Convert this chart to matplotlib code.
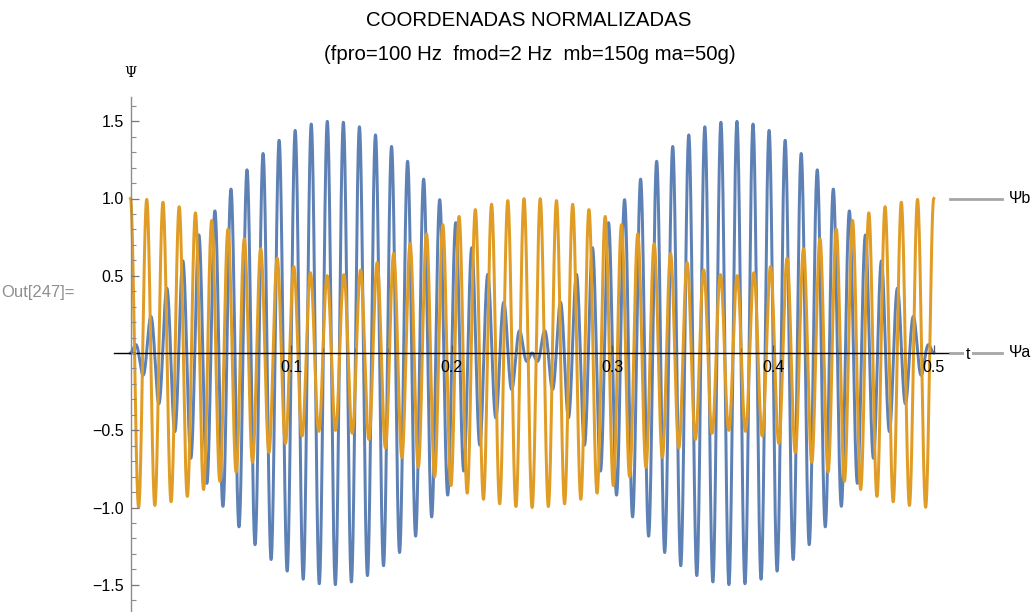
import numpy as np
import matplotlib
matplotlib.use("Agg")
import matplotlib.pyplot as plt
from matplotlib.lines import Line2D
from matplotlib.ticker import FixedLocator, MultipleLocator, FixedFormatter

# Parameters of the coupled system (shown in the subtitle)
fpro = 100.0   # average frequency, Hz
fmod = 2.0     # modulation frequency, Hz
mb = 150.0     # mass b, g
ma = 50.0      # mass a, g
t_end = 0.5    # s

series_names = ["\u03a8a", "\u03a8b"]
series_colors = ["#5E81B5", "#E09C24"]

x_ticks = [0.1, 0.2, 0.3, 0.4, 0.5]
x_tick_labels = ["0.1", "0.2", "0.3", "0.4", "0.5"]
y_ticks = [-1.5, -1.0, -0.5, 0.5, 1.0, 1.5]
y_tick_labels = ["\u22121.5", "\u22121.0", "\u22120.5", "0.5", "1.0", "1.5"]

title_line1 = "COORDENADAS NORMALIZADAS"
title_line2 = f"(fpro={fpro:g} Hz  fmod={fmod:g} Hz  mb={mb:g}g ma={ma:g}g)"

# Normal-mode superposition, starting from psi_a = 0, psi_b = 1
t = np.linspace(0.0, t_end, 40001)
w_slow = 2 * np.pi * (fpro - fmod)   # in-phase mode
w_fast = 2 * np.pi * (fpro + fmod)   # anti-phase mode
c_slow = mb / (ma + mb)
c_fast = ma / (ma + mb)
psi_a = c_slow * np.cos(w_slow * t) - c_fast * (mb / ma) * np.cos(w_fast * t)
psi_b = c_slow * np.cos(w_slow * t) + c_fast * np.cos(w_fast * t)

plt.rcParams["font.family"] = ["Liberation Sans", "DejaVu Sans"]

W, H = 1033, 612
fig = plt.figure(figsize=(W / 100, H / 100), dpi=100)

# pixel geometry of the plotting frame
x0_px, x_scale = 130.5, 1606.5     # px at t=0, px per unit t
y0_px, y_scale = 353.0, 154.5      # px at psi=0, px per unit psi
left_px, right_px, top_px, bottom_px = 114, 950, 97, 612

ax = fig.add_axes([left_px / W, 1 - bottom_px / H,
                   (right_px - left_px) / W, (bottom_px - top_px) / H])
ax.set_xlim((left_px - x0_px) / x_scale, (right_px - x0_px) / x_scale)
ax.set_ylim((y0_px - bottom_px) / y_scale, (y0_px - top_px) / y_scale)
ax.patch.set_visible(False)

for y, c in zip([psi_a, psi_b], series_colors):
    ax.plot(t, y, color=c, lw=2.15, solid_joinstyle="round", zorder=2)

for s in ("top", "right"):
    ax.spines[s].set_visible(False)
ax.spines["left"].set_position(("data", 0))
ax.spines["bottom"].set_position(("data", 0))
ax.spines["left"].set_color("#8c8c8c")
ax.spines["bottom"].set_color("black")
ax.spines["left"].set_linewidth(1.0)
ax.spines["bottom"].set_linewidth(1.0)
ax.spines["left"].set_zorder(3)
ax.spines["bottom"].set_zorder(3)
ax.xaxis.set_zorder(4)
ax.yaxis.set_zorder(4)

ax.xaxis.set_major_locator(FixedLocator(x_ticks))
ax.xaxis.set_major_formatter(FixedFormatter(x_tick_labels))
ax.xaxis.set_minor_locator(MultipleLocator(0.02))
ax.yaxis.set_major_locator(FixedLocator(y_ticks))
ax.yaxis.set_major_formatter(FixedFormatter(y_tick_labels))
ax.yaxis.set_minor_locator(MultipleLocator(0.1))

ax.tick_params(axis="x", which="major", direction="in", length=6, width=0.9,
               color="#555555", labelsize=11.5, pad=5)
ax.tick_params(axis="x", which="minor", direction="in", length=3.5, width=0.8,
               color="#777777")
ax.tick_params(axis="y", which="major", direction="in", length=6, width=0.9,
               color="#777777", labelsize=11.5, pad=5)
ax.tick_params(axis="y", which="minor", direction="in", length=3.5, width=0.8,
               color="#8c8c8c")


def px(x, y):
    return x / W, 1 - y / H


fig.text(*px(529, 20), title_line1, ha="center", va="center", fontsize=14.7)
fig.text(*px(530, 55), title_line2, ha="center", va="center", fontsize=14.7)

fig.text(*px(130, 73), "\u03a8", ha="center", va="center", fontsize=10,
         family=["DejaVu Serif"])
fig.text(*px(968, 354), "t", ha="center", va="center", fontsize=11.5,
         bbox=dict(facecolor="white", edgecolor="none", pad=1.5), zorder=5)
fig.text(*px(1, 292), "Out[247]=", ha="left", va="center", fontsize=12,
         color="#8f8f8f")

# series labels with leader lines
end_vals = [psi_a[-1], psi_b[-1]]
for name, v in zip(series_names, end_vals):
    ypx = y0_px - v * y_scale
    fig.add_artist(Line2D([950 / W, 1002 / W], [1 - ypx / H, 1 - ypx / H],
                          color="#a6a6a6", lw=2.0, zorder=4))
    fig.text(*px(1009, ypx), name, ha="left", va="center", fontsize=11.5,
             zorder=6)

fig.savefig("out.png", dpi=100)
